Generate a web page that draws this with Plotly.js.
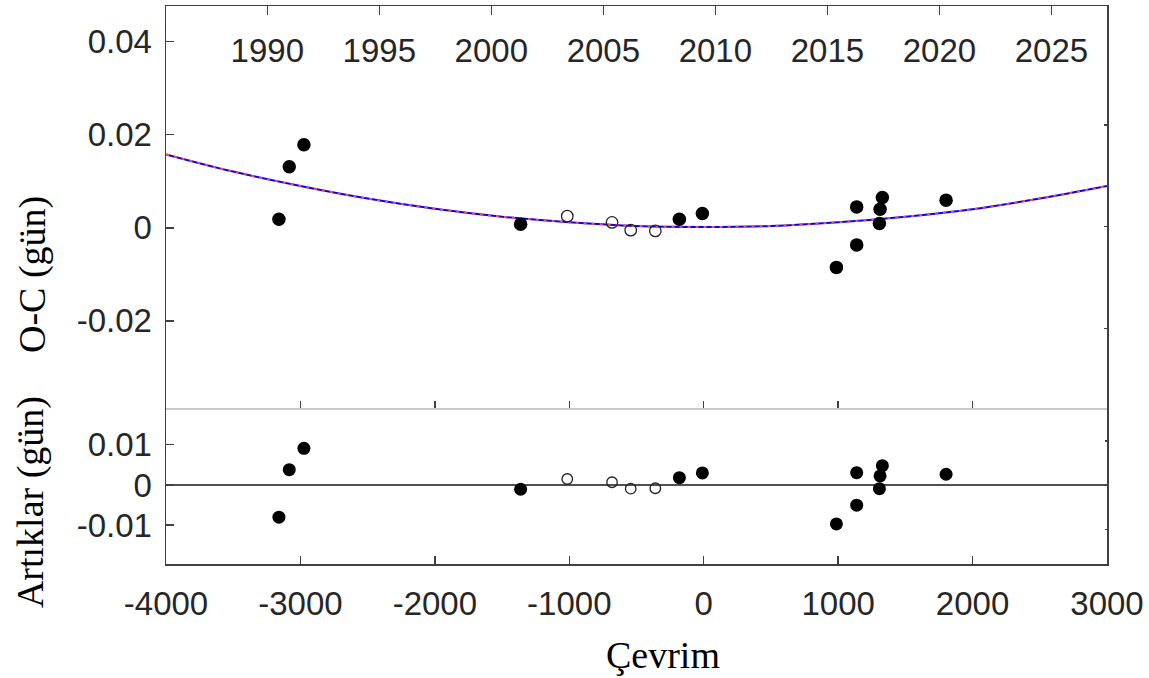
<!DOCTYPE html>
<html>
<head>
<meta charset="utf-8">
<script src="https://cdn.plot.ly/plotly-3.0.1.min.js"></script>
<style>html,body{margin:0;padding:0;background:#fff;}#chart{width:1149px;height:678px;}</style>
</head>
<body>
<div id="chart"></div>
<script>
// Filled points (cycle, O-C, residual)
const cycleFilled = [-3160, -3083, -2974, -1362, -181, -10, 987, 1138, 1138, 1329, 1312, 1307, 1803];
const ocFilled    = [0.00187, 0.01312, 0.01785, 0.00080, 0.00187, 0.00310, -0.00850, 0.00451, -0.00366, 0.00654, 0.00402, 0.00095, 0.00596];
const resFilled   = [-0.00803, 0.00381, 0.00913, -0.00107, 0.00182, 0.00299, -0.00970, 0.00306, -0.00505, 0.00480, 0.00224, -0.00092, 0.00266];
// Open points
const cycleOpen = [-1015, -682, -543, -360];
const ocOpen    = [0.00252, 0.00116, -0.00050, -0.00065];
const resOpen   = [0.00149, 0.00067, -0.00092, -0.00082];
// Fitted curve
const fitCycle = [-4000, -3500, -3000, -2500, -2000, -1500, -1000, -500, 0, 500, 1000, 1500, 2000, 2500, 3000];
const fitOC    = [0.0158, 0.0121, 0.0090, 0.0063, 0.0041, 0.0024, 0.0012, 0.0004, 0.0002, 0.0004, 0.0012, 0.0024, 0.0040, 0.0063, 0.0090];
// Tick labels
const cycleTicks = [-4000, -3000, -2000, -1000, 0, 1000, 2000, 3000];
const cycleTickText = ["-4000", "-3000", "-2000", "-1000", "0", "1000", "2000", "3000"];
const yearTicks = [1990, 1995, 2000, 2005, 2010, 2015, 2020, 2025];
const ocTicks = [-0.02, 0, 0.02, 0.04];
const ocTickText = ["-0.02", "0", "0.02", "0.04"];
const resTicks = [-0.01, 0, 0.01];
const resTickText = ["-0.01", "0", "0.01"];

const dark = '#404040';
const tickFont = {family: 'Liberation Sans, Arial, sans-serif', size: 33, color: '#262626'};
const serif = {family: 'Liberation Serif, Times New Roman, serif', size: 38, color: '#000'};

const nothing = yearTicks.map(() => null);
const traces = [
  // placeholder traces so that the overlay axes (years on top, right-hand ticks) are drawn
  {x: yearTicks, y: nothing, xaxis: 'x3', yaxis: 'y3', mode: 'markers', marker: {opacity: 0}, hoverinfo: 'skip'},
  {x: cycleTicks, y: cycleTicks.map(() => null), xaxis: 'x2', yaxis: 'y4', mode: 'markers', marker: {opacity: 0}, hoverinfo: 'skip'},
  {x: fitCycle, y: fitOC, xaxis: 'x', yaxis: 'y', mode: 'lines', line: {color: '#0000ff', width: 2, shape: 'spline'}, hoverinfo: 'skip'},
  {x: fitCycle, y: fitOC, xaxis: 'x', yaxis: 'y', mode: 'lines', line: {color: '#ff5050', width: 2, dash: '3px,5px', shape: 'spline'}, hoverinfo: 'skip'},
  {x: cycleFilled, y: ocFilled, xaxis: 'x', yaxis: 'y', mode: 'markers', marker: {symbol: 'circle', size: 13.5, color: '#000'}},
  {x: cycleOpen, y: ocOpen, xaxis: 'x', yaxis: 'y', mode: 'markers', marker: {symbol: 'circle-open', size: 11.5, color: '#222', line: {width: 1.3, color: '#222'}}},
  {x: cycleFilled, y: resFilled, xaxis: 'x2', yaxis: 'y2', mode: 'markers', marker: {symbol: 'circle', size: 13, color: '#000'}},
  {x: cycleOpen, y: resOpen, xaxis: 'x2', yaxis: 'y2', mode: 'markers', marker: {symbol: 'circle-open', size: 10.5, color: '#222', line: {width: 1.3, color: '#222'}}}
];

const split = 0.279;
const layout = {
  width: 1149, height: 678,
  margin: {l: 166, r: 42, t: 6, b: 114},
  paper_bgcolor: '#fff', plot_bgcolor: '#fff',
  showlegend: false,
  font: tickFont,
  xaxis: {
    domain: [0, 1], anchor: 'y', range: [-4000, 3000],
    tickvals: cycleTicks, showticklabels: false,
    ticks: 'inside', ticklen: 7, tickcolor: dark, tickwidth: 1.3,
    showline: true, linecolor: '#c8c8c8', linewidth: 1.3,
    showgrid: false, zeroline: false
  },
  xaxis2: {
    domain: [0, 1], anchor: 'y2', range: [-4000, 3000],
    tickvals: cycleTicks, ticktext: cycleTickText,
    ticks: 'inside', ticklen: 8, tickcolor: dark, tickwidth: 1.3,
    ticklabelstandoff: 10,
    showline: true, linecolor: dark, linewidth: 1.5, mirror: false,
    showgrid: false, zeroline: false, tickfont: tickFont
  },
  xaxis3: {
    overlaying: 'x', side: 'top', anchor: 'y3', range: [1985.48, 2027.48],
    tickvals: yearTicks, ticktext: yearTicks.map(String),
    ticks: 'inside', ticklen: 9, tickcolor: dark, tickwidth: 1.3,
    ticklabelposition: 'inside', ticklabelstandoff: 28,
    showline: true, linecolor: dark, linewidth: 1.5,
    showgrid: false, zeroline: false, tickfont: tickFont
  },
  yaxis: {
    domain: [split, 1], anchor: 'x', range: [-0.0388, 0.0477],
    tickvals: ocTicks, ticktext: ocTickText,
    ticks: 'inside', ticklen: 8, tickcolor: dark, tickwidth: 1.3,
    ticklabelstandoff: 6,
    showline: true, linecolor: dark, linewidth: 1.5,
    showgrid: false, zeroline: false, tickfont: tickFont
  },
  yaxis3: {
    overlaying: 'y', side: 'right', anchor: 'x3', range: [-0.0357, 0.0434],
    tickvals: ocTicks, showticklabels: false,
    ticks: 'inside', ticklen: 3, tickcolor: dark, tickwidth: 1.3,
    showline: true, linecolor: dark, linewidth: 1.5,
    showgrid: false, zeroline: false
  },
  yaxis2: {
    domain: [0, split], anchor: 'x2', range: [-0.0197, 0.0191],
    tickvals: resTicks, ticktext: resTickText,
    ticks: 'inside', ticklen: 8, tickcolor: dark, tickwidth: 1.3,
    ticklabelstandoff: 6,
    showline: true, linecolor: dark, linewidth: 1.5,
    showgrid: false, zeroline: true, zerolinecolor: '#505050', zerolinewidth: 1.6,
    tickfont: tickFont
  },
  yaxis4: {
    overlaying: 'y2', side: 'right', anchor: 'x2', range: [-0.01783, 0.01738],
    tickvals: resTicks, showticklabels: false,
    ticks: 'inside', ticklen: 2, tickcolor: dark, tickwidth: 1.3,
    showline: true, linecolor: dark, linewidth: 1.5,
    showgrid: false, zeroline: false
  },
  annotations: [
    {text: 'O-C (gün)', xref: 'paper', yref: 'paper', x: -0.1413, y: 0.518, xanchor: 'center', yanchor: 'middle', textangle: -90, showarrow: false, font: serif},
    {text: 'Artıklar (gün)', xref: 'paper', yref: 'paper', x: -0.1445, y: 0.111, xanchor: 'center', yanchor: 'middle', textangle: -90, showarrow: false, font: serif},
    {text: 'Çevrim', xref: 'paper', yref: 'paper', x: 0.528, y: -0.163, xanchor: 'center', yanchor: 'middle', showarrow: false, font: serif}
  ]
};

Plotly.newPlot('chart', traces, layout, {staticPlot: true, displayModeBar: false});
</script>
</body>
</html>
